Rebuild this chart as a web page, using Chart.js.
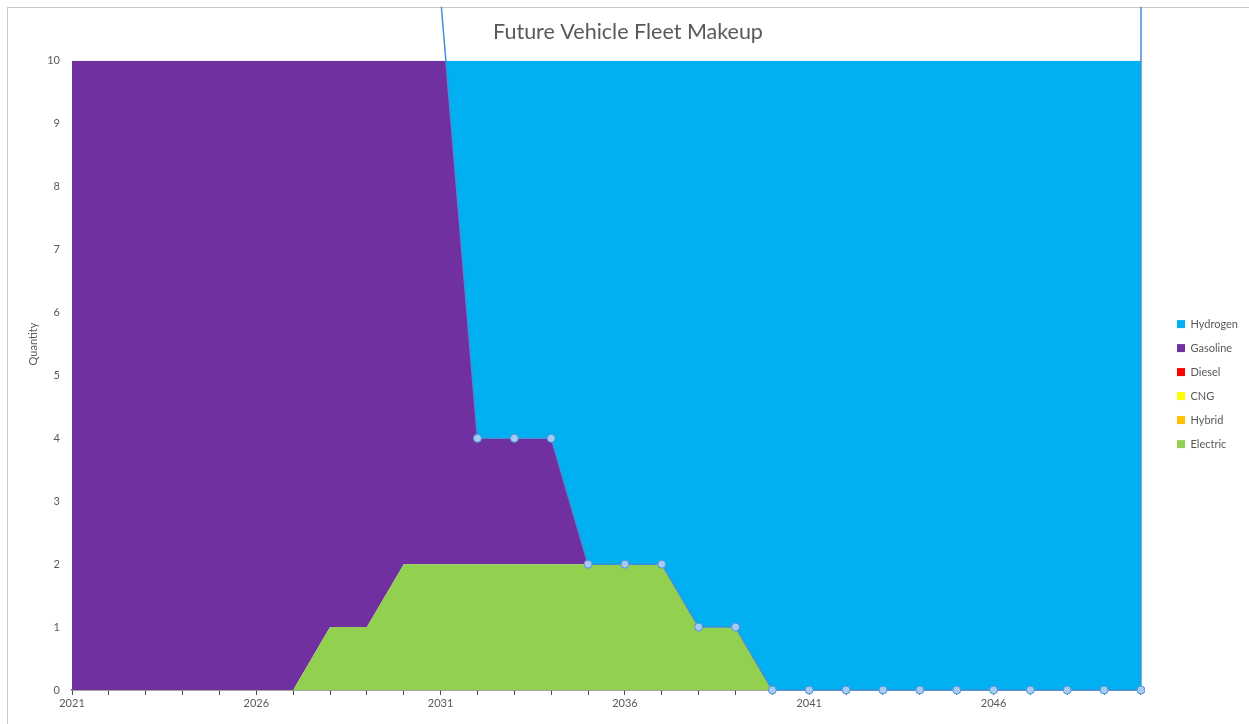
<!DOCTYPE html>
<html>
<head>
<meta charset="utf-8">
<title>Future Vehicle Fleet Makeup</title>
<script src="https://cdn.jsdelivr.net/npm/chart.js@4.4.1/dist/chart.umd.min.js"></script>
<style>
  html, body { margin: 0; padding: 0; background: #ffffff; }
  #wrap { position: relative; width: 1249px; height: 724px; overflow: hidden; }
  #frame { position: absolute; left: 7px; top: 7px; width: 1400px; height: 900px;
           border-top: 1px solid #c9c9c9; border-left: 1px solid #c9c9c9; }
  #c { position: absolute; left: 0; top: 0; }
</style>
</head>
<body>
<div id="wrap">
  <div id="frame"></div>
  <canvas id="c" width="1249" height="724"></canvas>
</div>
<script>
// Fleet years (one category per year)
const years = ['2021','2022','2023','2024','2025','2026','2027','2028','2029','2030',
               '2031','2032','2033','2034','2035','2036','2037','2038','2039','2040',
               '2041','2042','2043','2044','2045','2046','2047','2048','2049','2050'];

// Labelled years on the horizontal axis
const xTickLabels = ['2021','2026','2031','2036','2041','2046'];

// Vehicles of each fuel type per year
const electric = [0,0,0,0,0,0,0,1,1,2, 2,2,2,2,2,2,2,1,1,0, 0,0,0,0,0,0,0,0,0,0];
const hybrid   = [0,0,0,0,0,0,0,0,0,0, 0,0,0,0,0,0,0,0,0,0, 0,0,0,0,0,0,0,0,0,0];
const cng      = [0,0,0,0,0,0,0,0,0,0, 0,0,0,0,0,0,0,0,0,0, 0,0,0,0,0,0,0,0,0,0];
const diesel   = [0,0,0,0,0,0,0,0,0,0, 0,0,0,0,0,0,0,0,0,0, 0,0,0,0,0,0,0,0,0,0];
const gasoline = [11,11,11,11,11,11,11,10,10,9, 9,2,2,2,0,0,0,0,0,0, 0,0,0,0,0,0,0,0,0,0];
const hydrogen = [0,0,0,0,0,0,0,0,0,0, 0,7,7,7,9,9,9,10,10,11, 11,11,11,11,11,11,11,11,11,11];

// Quantity axis range
const yMin = 0;
const yMax = 10;
const yStep = 1;

// Series in stacking order, bottom to top
const series = [
  { label: 'Electric', values: electric, color: '#92D050' },
  { label: 'Hybrid',   values: hybrid,   color: '#FFC000' },
  { label: 'CNG',      values: cng,      color: '#FFFF00' },
  { label: 'Diesel',   values: diesel,   color: '#FF0000' },
  { label: 'Gasoline', values: gasoline, color: '#7030A0' },
  { label: 'Hydrogen', values: hydrogen, color: '#00B0F0' }
];

// Running totals so each area sits on top of the one below it
const tops = [];
let running = years.map(() => 0);
series.forEach(s => {
  running = running.map((v, i) => v + s.values[i]);
  tops.push(running);
});

const areaSets = series.map((s, k) => ({
  label: s.label,
  data: tops[k],
  backgroundColor: s.color,
  borderColor: s.color,
  borderWidth: 0,
  pointRadius: 0,
  pointHoverRadius: 0,
  fill: k === 0 ? 'origin' : '-1',
  order: 0
}));

// Outline of the hydrogen area: its lower edge (with markers) and its right edge
const hydrogenIdx = series.length - 1;
const lowerEdge = tops[hydrogenIdx - 1];
const lastYear = years[years.length - 1];
const outlineColor = '#3f8fdc';
const overflowClip = { left: 4, top: 54, right: 4, bottom: 5 };

const outlineSets = [
  {
    label: 'Hydrogen edge',
    data: lowerEdge,
    borderColor: outlineColor,
    borderWidth: 1.5,
    backgroundColor: '#a6cbf0',
    fill: false,
    pointRadius: 4,
    pointBackgroundColor: '#a6cbf0',
    pointBorderColor: '#4f95da',
    pointBorderWidth: 1,
    clip: overflowClip,
    order: -2
  },
  {
    label: 'Hydrogen side',
    data: [
      { x: lastYear, y: lowerEdge[lowerEdge.length - 1] },
      { x: lastYear, y: tops[hydrogenIdx][years.length - 1] }
    ],
    borderColor: outlineColor,
    borderWidth: 1.5,
    fill: false,
    pointRadius: 0,
    clip: overflowClip,
    order: -1
  }
];

const textColor = '#595959';
const baseFont = { family: 'Lato', size: 11 };

// Rotated caption for the quantity axis
const quantityCaption = {
  id: 'quantityCaption',
  afterDraw(chart) {
    const ctx = chart.ctx;
    ctx.save();
    ctx.translate(33, 344);
    ctx.rotate(-Math.PI / 2);
    ctx.font = '11px Lato';
    ctx.fillStyle = textColor;
    ctx.textAlign = 'center';
    ctx.textBaseline = 'middle';
    ctx.fillText('Quantity', 0, 0);
    ctx.restore();
  }
};

new Chart(document.getElementById('c'), {
  type: 'line',
  data: { labels: years, datasets: [...areaSets, ...outlineSets] },
  plugins: [quantityCaption],
  options: {
    responsive: false,
    animation: false,
    devicePixelRatio: 1,
    layout: { padding: { left: 8, right: 1, top: 0, bottom: 0 } },
    elements: { line: { tension: 0 } },
    plugins: {
      title: {
        display: true,
        text: 'Future Vehicle Fleet Makeup',
        color: textColor,
        font: { family: 'Lato', size: 21.5, weight: 'normal' },
        padding: { top: 19, bottom: 16 }
      },
      legend: {
        position: 'right',
        reverse: true,
        title: { display: true, text: ' ', font: { family: 'Lato', size: 11 }, padding: { top: 0, bottom: 31 } },
        labels: {
          boxWidth: 8,
          boxHeight: 8,
          padding: 13,
          color: textColor,
          font: baseFont,
          filter: item => item.datasetIndex < series.length
        }
      },
      tooltip: { enabled: false }
    },
    scales: {
      x: {
        type: 'category',
        offset: false,
        grid: { display: true, drawOnChartArea: false, drawTicks: true, tickLength: 5, color: '#4d4d4d', lineWidth: 1 },
        border: { display: true, color: '#4d4d4d', width: 1.5 },
        ticks: {
          autoSkip: false,
          maxRotation: 0,
          padding: 2,
          color: textColor,
          font: baseFont,
          callback(value) {
            const lab = this.getLabelForValue(value);
            return xTickLabels.includes(lab) ? lab : '';
          }
        },
        afterFit(scale) { scale.height = 34; }
      },
      y: {
        min: yMin,
        max: yMax,
        ticks: { stepSize: yStep, padding: 12, color: textColor, font: baseFont },
        grid: { display: false, drawTicks: false },
        border: { display: false },
        afterFit(scale) { scale.width = 64; }
      },
      gap: {
        type: 'linear',
        position: 'right',
        display: true,
        grid: { display: false, drawTicks: false },
        border: { display: false },
        ticks: { display: false },
        afterFit(scale) { scale.width = 23; }
      }
    }
  }
});
</script>
</body>
</html>
